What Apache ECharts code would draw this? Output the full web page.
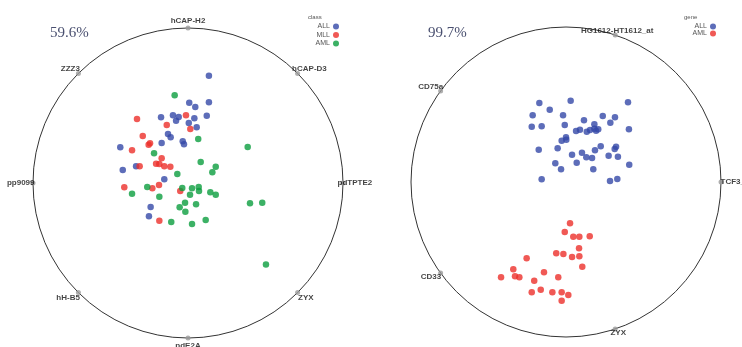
<!DOCTYPE html>
<html>
<head>
<meta charset="utf-8">
<script src="https://cdn.jsdelivr.net/npm/echarts@6/dist/echarts.min.js"></script>
<style>
  html, body { margin: 0; padding: 0; background: #fff; }
  #main { width: 742px; height: 347px; }
</style>
</head>
<body>
<div id="main"></div>
<script>
// coordinates are relative to each circle: centre 0, radius 1
const leftAll = [
  [0.135, 0.692], [0.008, 0.518], [0.047, 0.490], [0.135, 0.521], [-0.097, 0.437],
  [-0.060, 0.426], [-0.077, 0.402], [-0.174, 0.424], [0.041, 0.417], [0.121, 0.434],
  [0.005, 0.387], [0.056, 0.359], [-0.129, 0.316], [-0.112, 0.295], [-0.170, 0.258],
  [-0.034, 0.269], [-0.026, 0.250], [-0.437, 0.230], [-0.421, 0.084], [-0.335, 0.108],
  [-0.153, 0.024], [-0.241, -0.155], [-0.252, -0.215]
];
const leftMll = [
  [-0.329, 0.413], [-0.013, 0.437], [-0.137, 0.374], [0.015, 0.348], [-0.292, 0.303],
  [-0.245, 0.256], [-0.254, 0.247], [-0.361, 0.211], [-0.170, 0.159], [-0.206, 0.125],
  [-0.185, 0.123], [-0.153, 0.108], [-0.114, 0.105], [-0.312, 0.108], [-0.187, -0.013],
  [-0.230, -0.034], [-0.411, -0.028], [-0.050, -0.052], [-0.185, -0.243]
];
const leftAml = [
  [-0.086, 0.566], [0.066, 0.284], [0.385, 0.232], [-0.219, 0.192], [0.082, 0.135],
  [0.179, 0.105], [0.157, 0.069], [-0.069, 0.058], [-0.263, -0.026], [-0.037, -0.032],
  [0.026, -0.034], [0.069, -0.026], [0.071, -0.052], [0.013, -0.075], [0.144, -0.060],
  [0.179, -0.075], [-0.361, -0.069], [-0.185, -0.088], [-0.019, -0.127], [0.052, -0.137],
  [-0.054, -0.157], [-0.017, -0.185], [0.400, -0.131], [0.479, -0.127], [-0.108, -0.252],
  [0.026, -0.265], [0.114, -0.239], [0.503, -0.525]
];
const rightAll = [
  [-0.172, 0.510], [0.030, 0.525], [0.400, 0.514], [-0.105, 0.466], [-0.215, 0.430],
  [-0.019, 0.430], [0.237, 0.426], [0.316, 0.417], [0.116, 0.398], [0.286, 0.383],
  [-0.221, 0.357], [-0.157, 0.359], [-0.008, 0.368], [0.183, 0.372], [0.406, 0.340],
  [0.065, 0.329], [0.090, 0.337], [0.134, 0.325], [0.155, 0.335], [0.194, 0.331],
  [0.183, 0.344], [0.208, 0.340], [0.000, 0.288], [-0.028, 0.266], [0.002, 0.273],
  [-0.176, 0.208], [-0.054, 0.217], [0.224, 0.230], [0.187, 0.205], [0.323, 0.228],
  [0.314, 0.213], [0.039, 0.176], [0.103, 0.189], [0.131, 0.159], [0.168, 0.155],
  [0.275, 0.170], [0.335, 0.163], [-0.069, 0.121], [0.069, 0.125], [0.408, 0.112],
  [-0.032, 0.082], [0.176, 0.082], [-0.157, 0.017], [0.284, 0.006], [0.331, 0.019]
];
const rightAml = [
  [0.026, -0.266], [-0.008, -0.323], [0.047, -0.353], [0.086, -0.353], [0.153, -0.350],
  [0.084, -0.428], [-0.063, -0.460], [-0.017, -0.465], [0.039, -0.484], [0.086, -0.479],
  [-0.254, -0.492], [0.105, -0.546], [-0.340, -0.563], [-0.142, -0.583], [-0.329, -0.608],
  [-0.301, -0.615], [-0.419, -0.615], [-0.050, -0.615], [-0.205, -0.637], [-0.221, -0.712],
  [-0.163, -0.695], [-0.088, -0.712], [-0.028, -0.712], [0.015, -0.729], [-0.028, -0.766]
];

// anchor genes on the circle: [name, angle in degrees]
const leftGenes = [
  ['hCAP-H2', 90], ['ZZZ3', 135], ['hCAP-D3', 45], ['pp9099', 180],
  ['pdTPTE2', 0], ['hH-B5', 225], ['ZYX', 315], ['pdE2A', 270]
];
const rightGenes = [
  ['HG1612-HT1612_at', 71.5], ['CD75a', 144], ['TCF3_at', 0], ['CD33', 216], ['ZYX', 288.5]
];

const leftVar = '59.6%';
const rightVar = '99.7%';

const BLUE = '#3548a8';
const RED = '#ec2f2b';
const GREEN = '#0b9e3e';

// label placement for each anchor
const leftLabelPos = {
  'hCAP-H2': { position: 'top', distance: 1 },
  'ZZZ3': { position: 'left', distance: 0, offset: [4, -5] },
  'hCAP-D3': { position: 'right', distance: 0, offset: [-8, -5] },
  'pp9099': { position: 'left', distance: 0, offset: [4, 0] },
  'pdTPTE2': { position: 'right', distance: 0, offset: [-8, 0] },
  'hH-B5': { position: 'left', distance: 0, offset: [4, 5] },
  'ZYX': { position: 'right', distance: 0, offset: [-2, 5] },
  'pdE2A': { position: 'bottom', distance: 1 }
};
const rightLabelPos = {
  'HG1612-HT1612_at': { position: 'inside', offset: [2, -4] },
  'CD75a': { position: 'left', distance: 0, offset: [5, -4] },
  'TCF3_at': { position: 'right', distance: 0, offset: [-3, 0] },
  'CD33': { position: 'left', distance: 0, offset: [3, 4] },
  'ZYX': { position: 'bottom', distance: 0, offset: [3, -3] }
};

const chart = echarts.init(document.getElementById('main'));

const hiddenAxis = (gridIndex) => ({
  type: 'value', min: -1, max: 1, gridIndex, show: false
});

const anchorSeries = (genes, pos, polarIndex) => ({
  type: 'scatter',
  coordinateSystem: 'polar',
  polarIndex,
  symbolSize: 5,
  itemStyle: { color: '#9a9a9a' },
  silent: true,
  label: {
    show: true,
    formatter: '{b}',
    fontSize: 8,
    fontWeight: 'bold',
    fontFamily: 'Liberation Sans',
    color: '#111'
  },
  data: genes.map(([name, angle]) => ({
    name,
    value: [1, angle],
    label: pos[name]
  }))
});

const dots = (name, data, color, idx) => ({
  name,
  type: 'scatter',
  xAxisIndex: idx,
  yAxisIndex: idx,
  symbolSize: 6.5,
  itemStyle: { color },
  data
});

const pctStyle = { fontFamily: 'Liberation Serif', fontWeight: 'normal', fontSize: 15, color: '#4a5070' };
const keyStyle = { fontSize: 6, fontWeight: 'normal', color: '#555' };

const option = {
  animation: false,
  title: [
    { text: leftVar, left: 50, top: 26, padding: 0, textStyle: pctStyle },
    { text: rightVar, left: 428, top: 26, padding: 0, textStyle: pctStyle },
    { text: 'class', left: 308, top: 14, padding: 0, textStyle: keyStyle },
    { text: 'gene', left: 684, top: 14, padding: 0, textStyle: keyStyle }
  ],
  legend: [
    {
      orient: 'vertical', right: 403, top: 23, padding: 0, itemGap: 1.5,
      itemWidth: 6, itemHeight: 6, icon: 'circle', align: 'right',
      textStyle: { fontSize: 7, color: '#555', padding: [0, -2, 0, 0] },
      data: [
        { name: 'ALL', itemStyle: { color: BLUE } },
        { name: 'MLL', itemStyle: { color: RED } },
        { name: 'AML', itemStyle: { color: GREEN } }
      ]
    },
    {
      orient: 'vertical', right: 26, top: 23, padding: 0, itemGap: 0,
      itemWidth: 6, itemHeight: 6, icon: 'circle', align: 'right',
      textStyle: { fontSize: 7, color: '#555', padding: [0, -2, 0, 0] },
      data: [
        { name: 'ALL', itemStyle: { color: BLUE } },
        { name: 'AML', itemStyle: { color: RED } }
      ]
    }
  ],
  polar: [
    { center: [188, 183], radius: 155 },
    { center: [566, 182], radius: 155 }
  ],
  angleAxis: [0, 1].map((i) => ({
    polarIndex: i, type: 'value', min: 0, max: 360, startAngle: 0, clockwise: false,
    axisLine: { lineStyle: { color: '#333', width: 1 } },
    axisTick: { show: false }, axisLabel: { show: false }, splitLine: { show: false }
  })),
  radiusAxis: [0, 1].map((i) => ({
    polarIndex: i, type: 'value', min: 0, max: 1, show: false,
    axisLine: { show: false }, axisTick: { show: false }, axisLabel: { show: false }, splitLine: { show: false }
  })),
  grid: [
    { left: 33, top: 28, width: 310, height: 310 },
    { left: 411, top: 27, width: 310, height: 310 }
  ],
  xAxis: [hiddenAxis(0), hiddenAxis(1)],
  yAxis: [hiddenAxis(0), hiddenAxis(1)],
  series: [
    anchorSeries(leftGenes, leftLabelPos, 0),
    anchorSeries(rightGenes, rightLabelPos, 1),
    dots('ALL', leftAll, BLUE, 0),
    dots('MLL', leftMll, RED, 0),
    dots('AML', leftAml, GREEN, 0),
    dots('ALL', rightAll, BLUE, 1),
    dots('AML', rightAml, RED, 1)
  ]
};

chart.setOption(option);
</script>
</body>
</html>
